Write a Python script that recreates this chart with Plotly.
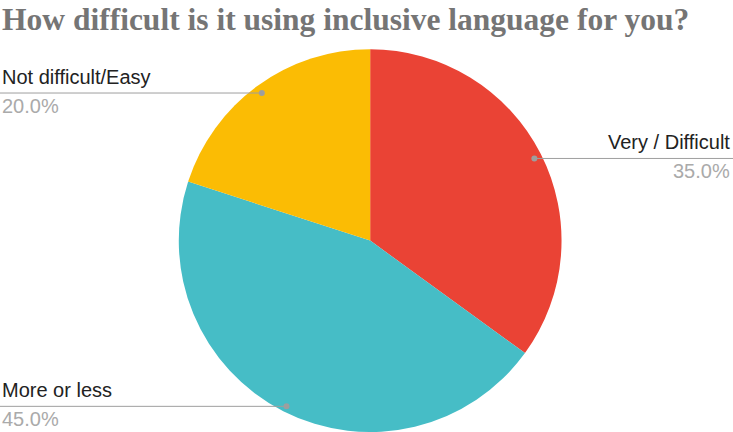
import math
import plotly.graph_objects as go

# Survey answers
labels = ["Very / Difficult", "More or less", "Not difficult/Easy"]
values = [35, 45, 20]
colors = ["#EA4335", "#46BDC6", "#FBBC04"]
title_text = "How difficult is it using inclusive language for you?"

W, H = 733, 432
dom_x = [0.2, 0.81]
dom_y = [0.0, 0.886]

# Pie geometry in pixels (margins are zero, so paper == page)
cx = (dom_x[0] + dom_x[1]) / 2 * W
cy = H - (dom_y[0] + dom_y[1]) / 2 * H
R = min((dom_x[1] - dom_x[0]) * W, (dom_y[1] - dom_y[0]) * H) / 2

fig = go.Figure()
fig.add_trace(go.Pie(
    labels=labels, values=values, sort=False, direction="clockwise", rotation=0,
    marker=dict(colors=colors, line=dict(width=0)),
    textinfo="none", hoverinfo="label+percent", showlegend=False,
    domain=dict(x=dom_x, y=dom_y),
))

label_font = "Liberation Sans, Arial, sans-serif"
total = sum(values)
cum = 0
shapes = []
annotations = []
for lab, v in zip(labels, values):
    mid = (cum + v / 2) / total * 2 * math.pi
    cum += v
    px = cx + 0.963 * R * math.sin(mid)
    py = cy - 0.963 * R * math.cos(mid) + 1.5
    right = math.sin(mid) > 0
    edge = W if right else 0
    # leader line and anchor dot
    shapes.append(dict(type="line", xref="x", yref="y", x0=px, x1=edge, y0=py, y1=py,
                       line=dict(color="#9E9E9E", width=1), layer="above"))
    shapes.append(dict(type="circle", xref="x", yref="y", x0=px - 3, x1=px + 3,
                       y0=py - 3, y1=py + 3, fillcolor="#9E9E9E",
                       line=dict(width=0), layer="above"))
    tx = 731 / W if right else 1 / W
    anchor = "right" if right else "left"
    pct = f"{v / total * 100:.1f}%"
    annotations.append(dict(x=tx, y=py - 4, xref="paper", yref="y", text=lab, showarrow=False,
                            xanchor=anchor, yanchor="bottom", borderpad=0,
                            font=dict(family=label_font, size=20, color="#222222")))
    annotations.append(dict(x=tx, y=py + 1, xref="paper", yref="y", text=pct, showarrow=False,
                            xanchor=anchor, yanchor="top", borderpad=0,
                            font=dict(family=label_font, size=20, color="#AAAAAA")))

annotations.append(dict(x=1 / W, y=1, xref="paper", yref="y", text=f"<b>{title_text}</b>",
                        showarrow=False, xanchor="left", yanchor="top", borderpad=0,
                        font=dict(family="Liberation Serif", size=31.5, color="#757575")))

fig.update_layout(
    width=W, height=H, margin=dict(l=0, r=0, t=0, b=0),
    paper_bgcolor="white", plot_bgcolor="rgba(0,0,0,0)",
    xaxis=dict(range=[0, W], visible=False, fixedrange=True),
    yaxis=dict(range=[H, 0], visible=False, fixedrange=True),
    annotations=annotations, shapes=shapes,
)
fig.write_html("out.html")
